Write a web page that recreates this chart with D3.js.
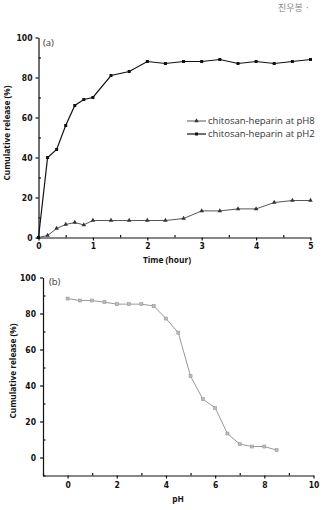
<!DOCTYPE html>
<html>
<head>
<meta charset="utf-8">
<script src="https://cdn.jsdelivr.net/npm/d3@7"></script>
<style>
  body { margin: 0; background: #fff; }
  svg { display: block; }
  .tick text { font-family: "Liberation Sans Narrow", "DejaVu Sans Condensed", sans-serif; font-weight: bold; font-size: 8.5px; fill: #111; }
  .title { font-family: "Open Sans", sans-serif; font-weight: bold; font-size: 8.3px; fill: #111; }
  .legend { font-family: "Open Sans", sans-serif; font-size: 9.5px; fill: #333; }
</style>
</head>
<body>
<div id="chart"></div>
<script>
// panel (a): release over time
const timeHours = [0, 0.167, 0.333, 0.5, 0.667, 0.833, 1, 1.333, 1.667, 2, 2.333, 2.667, 3, 3.333, 3.667, 4, 4.333, 4.667, 5];
const releasePH8 = [0, 1, 4.5, 6.5, 7.5, 6.3, 8.5, 8.5, 8.5, 8.5, 8.5, 9.5, 13.3, 13.3, 14.3, 14.3, 17.5, 18.5, 18.5];
const releasePH2 = [0, 40, 44, 56, 66, 69, 70, 81, 83, 88, 87, 88, 88, 89, 87, 88, 87, 88, 89];
const seriesNames = ["chitosan-heparin at pH8", "chitosan-heparin at pH2"];

// panel (b): release vs pH
const phValues = [0, 0.5, 1, 1.5, 2, 2.5, 3, 3.5, 4, 4.5, 5, 5.5, 6, 6.5, 7, 7.5, 8, 8.5];
const releaseByPH = [88.3, 87.2, 87.2, 86.3, 85.2, 85.2, 85.2, 84.2, 77.2, 69.4, 45.2, 32.4, 27.6, 13.3, 7.4, 6.1, 6.1, 4.1];

const width = 323, height = 510;
const svg = d3.select("#chart").append("svg")
    .attr("width", width)
    .attr("height", height);

// header text in the corner
svg.append("text")
    .attr("x", 278).attr("y", 11)
    .attr("font-family", "Noto Sans CJK KR")
    .attr("font-size", 9)
    .attr("fill", "#888")
    .text("진우봉 ·");

/* ---------- panel (a) ---------- */
const xA = d3.scaleLinear().domain([0, 5]).range([38.5, 310.5]);
const yA = d3.scaleLinear().domain([0, 100]).range([237.5, 37.5]);

// minor ticks inside
const gA = svg.append("g");
gA.append("g")
    .attr("transform", "translate(0,237.5)")
    .call(d3.axisBottom(xA).tickValues(d3.range(0.5, 5, 1)).tickSize(-2.5).tickFormat(""))
    .call(g => g.select(".domain").remove());
gA.append("g")
    .attr("transform", "translate(38.5,0)")
    .call(d3.axisLeft(yA).tickValues(d3.range(10, 100, 20)).tickSize(-2.5).tickFormat(""))
    .call(g => g.select(".domain").remove());

gA.append("g")
    .attr("transform", "translate(0,237.5)")
    .call(d3.axisBottom(xA).ticks(5).tickSize(3).tickPadding(2).tickSizeOuter(0));
gA.append("g")
    .attr("transform", "translate(38.5,0)")
    .call(d3.axisLeft(yA).tickValues(d3.range(0, 101, 20)).tickSize(3).tickPadding(3).tickSizeOuter(0));
gA.selectAll(".domain, .tick line").attr("stroke", "#111").attr("stroke-width", 1.2);

const lineA = d3.line().x(d => xA(d[0])).y(d => yA(d[1]));
const ph8 = timeHours.map((t, i) => [t, releasePH8[i]]);
const ph2 = timeHours.map((t, i) => [t, releasePH2[i]]);

gA.append("path").datum(ph8)
    .attr("d", lineA).attr("fill", "none").attr("stroke", "#444").attr("stroke-width", 0.9);
gA.append("path").datum(ph2)
    .attr("d", lineA).attr("fill", "none").attr("stroke", "#111").attr("stroke-width", 1.2);

const tri = d3.symbol().type(d3.symbolTriangle).size(9);
gA.selectAll(".tri").data(ph8).enter().append("path")
    .attr("class", "tri")
    .attr("d", tri)
    .attr("transform", d => `translate(${xA(d[0])},${yA(d[1])})`)
    .attr("fill", "#333");
gA.selectAll(".sq").data(ph2).enter().append("rect")
    .attr("class", "sq")
    .attr("x", d => xA(d[0]) - 1.5).attr("y", d => yA(d[1]) - 1.5)
    .attr("width", 3).attr("height", 3)
    .attr("fill", "#111");

gA.append("text").attr("class", "legend")
    .attr("x", 43).attr("y", 46).attr("font-size", 11).text("(a)");

// legend
const legend = gA.append("g");
seriesNames.forEach((name, i) => {
    const ly = 121 + i * 13;
    legend.append("line")
        .attr("x1", 187).attr("x2", 206).attr("y1", ly).attr("y2", ly)
        .attr("stroke", i === 0 ? "#444" : "#111").attr("stroke-width", i === 0 ? 0.9 : 1.2);
    if (i === 0) {
        legend.append("path").attr("d", tri).attr("transform", `translate(196.5,${ly})`).attr("fill", "#333");
    } else {
        legend.append("rect").attr("x", 195).attr("y", ly - 1.5).attr("width", 3).attr("height", 3).attr("fill", "#111");
    }
    legend.append("text").attr("class", "legend")
        .attr("x", 208).attr("y", ly).attr("dy", "0.35em").text(name);
});

gA.append("text").attr("class", "title")
    .attr("x", 167).attr("y", 263).attr("text-anchor", "middle").text("Time (hour)");
gA.append("text").attr("class", "title")
    .attr("transform", "translate(10,133) rotate(-90)")
    .attr("text-anchor", "middle").text("Cumulative release (%)");

/* ---------- panel (b) ---------- */
const xB = d3.scaleLinear().domain([-1, 10]).range([43, 313.5]);
const yB = d3.scaleLinear().domain([-10, 100]).range([475.5, 277.5]);
const gB = svg.append("g");

gB.append("g")
    .attr("transform", "translate(0,475.5)")
    .call(d3.axisBottom(xB).tickValues(d3.range(-1, 10, 2)).tickSize(-2.5).tickFormat(""))
    .call(g => g.select(".domain").remove());
gB.append("g")
    .attr("transform", "translate(43,0)")
    .call(d3.axisLeft(yB).tickValues(d3.range(-10, 100, 20)).tickSize(-2.5).tickFormat(""))
    .call(g => g.select(".domain").remove());

gB.append("g")
    .attr("transform", "translate(0,475.5)")
    .call(d3.axisBottom(xB).tickValues(d3.range(0, 11, 2)).tickSize(3).tickPadding(3).tickSizeOuter(0));
gB.append("g")
    .attr("transform", "translate(43,0)")
    .call(d3.axisLeft(yB).tickValues(d3.range(0, 101, 20)).tickSize(3).tickPadding(4).tickSizeOuter(0));
gB.selectAll(".domain, .tick line").attr("stroke", "#111").attr("stroke-width", 1.2);

const phData = phValues.map((p, i) => [p, releaseByPH[i]]);
const lineB = d3.line().x(d => xB(d[0])).y(d => yB(d[1]));
gB.append("path").datum(phData)
    .attr("d", lineB).attr("fill", "none").attr("stroke", "#999").attr("stroke-width", 1);
gB.selectAll(".sqb").data(phData).enter().append("rect")
    .attr("class", "sqb")
    .attr("x", d => xB(d[0]) - 1.5).attr("y", d => yB(d[1]) - 1.5)
    .attr("width", 3).attr("height", 3)
    .attr("fill", "#bbb").attr("stroke", "#999").attr("stroke-width", 0.6);

gB.append("text").attr("class", "legend")
    .attr("x", 49).attr("y", 285).attr("font-size", 11).text("(b)");
gB.append("text").attr("class", "title")
    .attr("x", 178).attr("y", 502).attr("text-anchor", "middle").attr("font-size", 9).text("pH");
gB.append("text").attr("class", "title")
    .attr("transform", "translate(16,371) rotate(-90)")
    .attr("text-anchor", "middle").text("Cumulative release (%)");
</script>
</body>
</html>
